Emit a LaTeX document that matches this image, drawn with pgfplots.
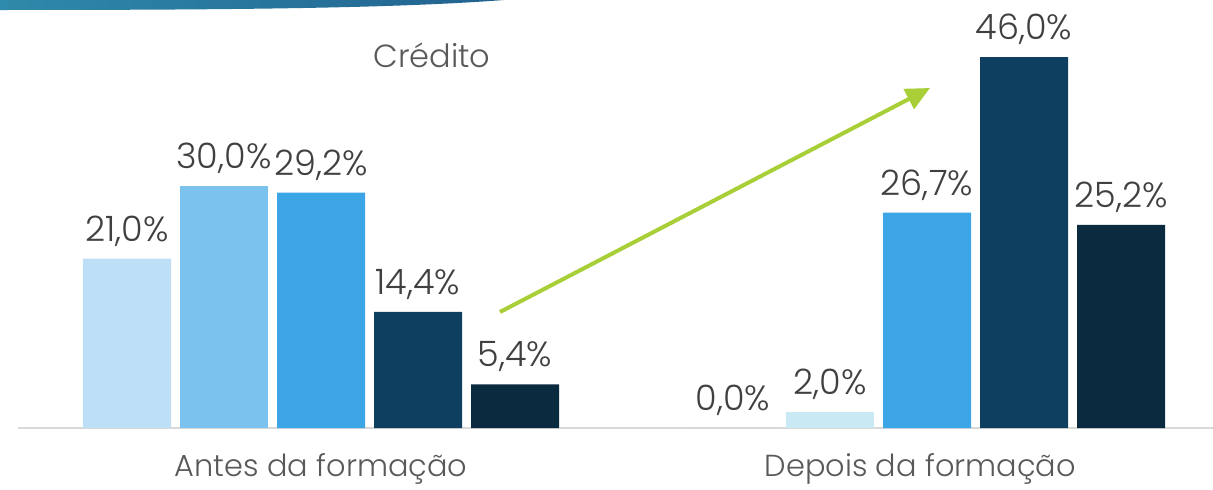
\documentclass[border=0pt]{standalone}
\usepackage{fontspec}
\setmainfont{Poppins Light}
\usepackage{pgfplots}
\pgfplotsset{compat=1.18}
\usetikzlibrary{arrows.meta}
\definecolor{c1}{HTML}{BDE0F7}
\definecolor{c2}{HTML}{7BC3EE}
\definecolor{c2b}{HTML}{C9E9F5}
\definecolor{c3}{HTML}{3BA5E6}
\definecolor{c4}{HTML}{0E3F60}
\definecolor{c5}{HTML}{0A2A40}
\definecolor{axisgray}{HTML}{D9D9D9}
\definecolor{lblgray}{HTML}{404040}
\definecolor{catgray}{HTML}{595959}
\definecolor{arrowgreen}{HTML}{A8CF38}
\definecolor{bannerL}{HTML}{2E8AAA}
\definecolor{bannerR}{HTML}{22628F}
\begin{document}
\begin{tikzpicture}[x=1pt,y=1pt]
\shade[left color=bannerL, right color=bannerR] (0,244.5) -- (252,244.5) .. controls (200,240.5) and (120,239.5) .. (0,239.5) -- cycle;
\begin{axis}[at={(9pt,30.5pt)}, anchor=south west, scale only axis,
  width=606pt, height=214pt,
  xmin=-0.5, xmax=1.5, ymin=0, ymax=53.07,
  ybar, bar width=44pt,
  axis x line=bottom, axis y line=none,
  x axis line style={draw=axisgray, line width=1pt, -},
  xtick={0,0.989}, xticklabels={Antes da formação, Depois da formação},
  major tick length=0pt,
  xticklabel style={anchor=base, yshift=-24pt, font=\fontsize{15.2}{18}\selectfont, text=catgray},
  /pgf/number format/assume math mode=true,
  nodes near coords={\pgfmathprintnumber[fixed,fixed zerofill,precision=1,use comma]{\pgfplotspointmeta}\%},
  every node near coord/.append style={font=\fontsize{17.5}{20}\selectfont, text=lblgray, anchor=south, inner sep=0pt, yshift=6pt},
  clip=false]
\addplot[fill=c1, draw=none, bar shift=-97pt] coordinates {(0,21.0) (1,0.0)};
\addplot[fill=c2, draw=none, bar shift=-48.5pt] coordinates {(0,30.0)};
\addplot[fill=c2b, draw=none, bar shift=-48.5pt] coordinates {(1,2.0)};
\addplot[fill=c3, draw=none, bar shift=0pt] coordinates {(0,29.2) (1,26.7)};
\addplot[fill=c4, draw=none, bar shift=48.5pt] coordinates {(0,14.4) (1,46.0)};
\addplot[fill=c5, draw=none, bar shift=97pt] coordinates {(0,5.4) (1,25.2)};
\end{axis}
\node[font=\fontsize{16}{19}\selectfont, text=catgray] at (216,217) {Crédito};
\draw[arrowgreen, line width=2pt, -{Triangle[length=12pt,width=11pt]}] (250,88.5) -- (465,200.5);
\pgfresetboundingbox
\useasboundingbox (0,0) rectangle (606.5,244.5);
\end{tikzpicture}
\end{document}
